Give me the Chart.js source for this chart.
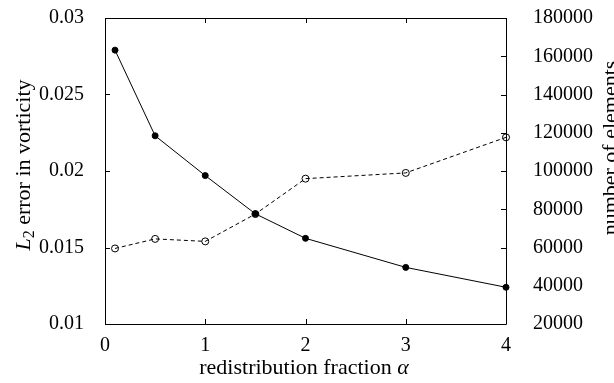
<!DOCTYPE html>
<html>
<head>
<meta charset="utf-8">
<script src="https://cdn.jsdelivr.net/npm/chart.js@4.4.1/dist/chart.umd.min.js"></script>
<style>
  html, body { margin: 0; padding: 0; background: #fff; }
  #wrap { width: 614px; height: 383px; position: relative; }
</style>
</head>
<body>
<div id="wrap"><canvas id="chart"></canvas></div>
<script>
// redistribution fraction alpha
const alphaValues = [0.1, 0.5, 1, 1.5, 2, 3, 4];
// L2 error in vorticity (left axis)
const errorValues = [0.0279, 0.0223, 0.0197, 0.0172, 0.0156, 0.0137, 0.0124];
// number of elements (right axis)
const elementCounts = [59500, 64500, 63200, 77500, 96000, 99000, 117600];

const xTicks = [0, 1, 2, 3, 4];
const errorTicks = [0.01, 0.015, 0.02, 0.025, 0.03];
const elementTicks = [20000, 40000, 60000, 80000, 100000, 120000, 140000, 160000, 180000];

const serif = "'Liberation Serif', 'Times New Roman', serif";
const tickFont = { family: serif, size: 20 };
const titleSize = 22;

function points(xs, ys) {
    return xs.map((x, i) => ({ x: x, y: ys[i] }));
}

// fixed axis sizes, no extra room for overhanging labels
function fixSize(w, h) {
    return s => {
        if (w !== null) s.width = w;
        if (h !== null) s.height = h;
        s.paddingTop = 0;
        s.paddingBottom = 0;
        s.paddingLeft = 0;
        s.paddingRight = 0;
    };
}

// frame with inward tick marks, gnuplot style
const frameTicks = {
    id: "frameTicks",
    afterDatasetsDraw(chart) {
        const { ctx, chartArea: a, scales } = chart;
        const len = 5;
        ctx.save();
        ctx.strokeStyle = "#000";
        ctx.lineWidth = 1;
        ctx.beginPath();
        ctx.rect(a.left + 0.5, a.top + 0.5, a.right - a.left, a.bottom - a.top);
        xTicks.forEach(v => {
            const px = Math.round(scales.x.getPixelForValue(v)) + 0.5;
            ctx.moveTo(px, a.bottom); ctx.lineTo(px, a.bottom - len);
            ctx.moveTo(px, a.top); ctx.lineTo(px, a.top + len);
        });
        errorTicks.forEach(v => {
            const py = Math.round(scales.y.getPixelForValue(v)) + 0.5;
            ctx.moveTo(a.left, py); ctx.lineTo(a.left + len, py);
        });
        elementTicks.forEach(v => {
            const py = Math.round(scales.y2.getPixelForValue(v)) + 0.5;
            ctx.moveTo(a.right, py); ctx.lineTo(a.right - len, py);
        });
        ctx.stroke();
        ctx.restore();
    },
    afterDraw(chart) {
        const ctx = chart.ctx;
        const big = titleSize + "px " + serif;
        const small = Math.round(titleSize * 0.72) + "px " + serif;
        ctx.save();
        ctx.fillStyle = "#000";
        ctx.textBaseline = "alphabetic";

        // left title: italic L with subscript 2
        ctx.save();
        ctx.translate(30, 165);
        ctx.rotate(-Math.PI / 2);
        const rest = " error in vorticity";
        ctx.font = "italic " + big;
        const wL = ctx.measureText("L").width;
        ctx.font = small;
        const w2 = ctx.measureText("2").width;
        ctx.font = big;
        const wRest = ctx.measureText(rest).width;
        const x0 = -(wL + w2 + wRest) / 2;
        ctx.font = "italic " + big;
        ctx.fillText("L", x0, 0);
        ctx.font = small;
        ctx.fillText("2", x0 + wL, 4);
        ctx.font = big;
        ctx.fillText(rest, x0 + wL + w2, 0);
        ctx.restore();

        // right title
        ctx.save();
        ctx.translate(617, 148);
        ctx.rotate(-Math.PI / 2);
        ctx.font = big;
        ctx.textAlign = "center";
        ctx.fillText("number of elements", 0, 0);
        ctx.restore();

        // bottom title with italic alpha
        const base = "redistribution fraction ";
        ctx.font = big;
        const wb = ctx.measureText(base).width;
        ctx.font = "italic " + big;
        const wa = ctx.measureText("α").width;
        const xs = 304 - (wb + wa) / 2;
        ctx.font = big;
        ctx.fillText(base, xs, 374);
        ctx.font = "italic " + big;
        ctx.fillText("α", xs + wb, 374);
        ctx.restore();
    }
};

new Chart(document.getElementById("chart"), {
    type: "line",
    data: {
        datasets: [
            {
                data: points(alphaValues, errorValues),
                yAxisID: "y",
                borderColor: "#000",
                borderWidth: 1,
                pointRadius: 3,
                pointBackgroundColor: "#000",
                pointBorderColor: "#000",
                pointBorderWidth: 1,
                tension: 0,
                clip: false,
            },
            {
                data: points(alphaValues, elementCounts),
                yAxisID: "y2",
                borderColor: "#000",
                borderWidth: 1,
                borderDash: [4, 3],
                pointRadius: 3.5,
                pointBackgroundColor: "rgba(0,0,0,0)",
                pointBorderColor: "#000",
                pointBorderWidth: 1,
                tension: 0,
                clip: false,
            },
        ],
    },
    options: {
        responsive: true,
        maintainAspectRatio: false,
        animation: false,
        events: [],
        layout: { padding: { top: 18, left: 0, right: 0, bottom: 0 } },
        plugins: { legend: { display: false }, tooltip: { enabled: false } },
        scales: {
            x: {
                type: "linear",
                min: 0,
                max: 4,
                afterFit: fixSize(null, 59),
                afterBuildTicks: s => { s.ticks = xTicks.map(v => ({ value: v })); },
                grid: { display: false },
                border: { display: false },
                ticks: { color: "#000", font: tickFont, padding: 2, maxRotation: 0, callback: v => String(v) },
            },
            y: {
                position: "left",
                min: 0.01,
                max: 0.03,
                afterFit: fixSize(105, null),
                afterBuildTicks: s => { s.ticks = errorTicks.map(v => ({ value: v })); },
                grid: { display: false },
                border: { display: false },
                ticks: { color: "#000", font: tickFont, padding: 13, callback: v => String(+v.toFixed(3)) },
            },
            y2: {
                position: "right",
                min: 20000,
                max: 180000,
                afterFit: fixSize(108, null),
                afterBuildTicks: s => { s.ticks = elementTicks.map(v => ({ value: v })); },
                grid: { display: false },
                border: { display: false },
                ticks: { color: "#000", font: tickFont, padding: 19, callback: v => String(v) },
            },
        },
    },
    plugins: [frameTicks],
});
</script>
</body>
</html>
